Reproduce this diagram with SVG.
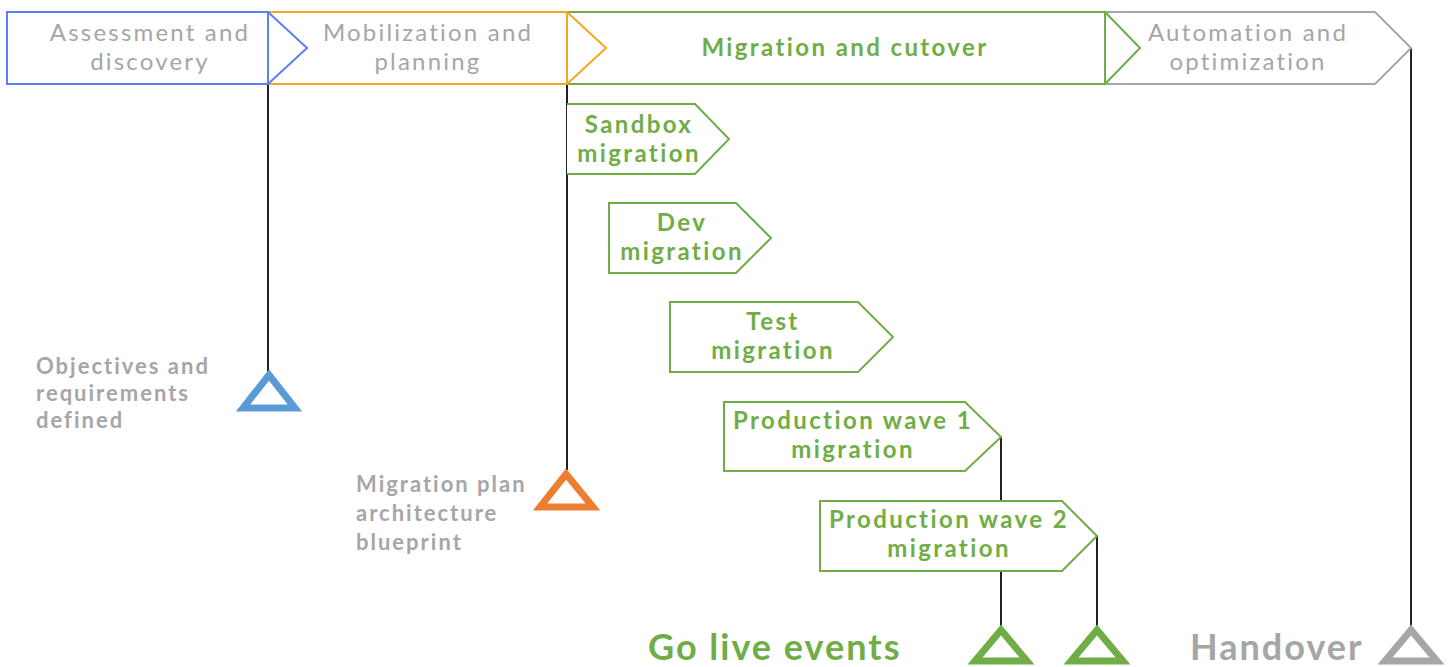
<svg xmlns="http://www.w3.org/2000/svg" width="1448" height="667" viewBox="0 0 1448 667">
<style>
.phase{fill:#fff;stroke-width:2}
.sub{fill:#fff;stroke:#70ad47;stroke-width:2}
.pt{font-family:Lato,"Open Sans",sans-serif;font-size:24px;fill:#a6a6a6;text-anchor:middle;letter-spacing:2.2px}
.st{font-family:Lato,"Open Sans",sans-serif;font-size:24px;font-weight:bold;fill:#70ad47;text-anchor:middle;letter-spacing:2.4px}
.lbl{font-family:Lato,"Open Sans",sans-serif;font-size:22px;font-weight:bold;fill:#a6a6a6;letter-spacing:2px}
.big{font-family:Lato,"Open Sans",sans-serif;font-size:36px;font-weight:bold;letter-spacing:2px}
.line{stroke:#222;stroke-width:2;fill:none}
.tri{fill:none;stroke-width:7;stroke-linejoin:miter}
</style>
<rect width="1448" height="667" fill="#fff"/>
<g id="connectors">
<line class="line" x1="268" y1="84" x2="268" y2="372"/>
<line class="line" x1="567" y1="84" x2="567" y2="470"/>
<line class="line" x1="1411" y1="48" x2="1411" y2="626"/>
<line class="line" x1="1001" y1="437" x2="1001" y2="626"/>
<line class="line" x1="1097" y1="536" x2="1097" y2="626"/>
</g>
<g id="phase-automation">
<path class="phase" stroke="#a6a6a6" d="M1105,12 L1375,12 L1411,48 L1375,84 L1105,84"/>
<text class="pt" x="1248" y="41">Automation and</text>
<text class="pt" x="1248" y="70">optimization</text>
</g>
<g id="phase-migration">
<rect class="phase" stroke="#70ad47" x="567" y="12" width="538" height="72"/>
<path fill="none" stroke="#70ad47" stroke-width="2" d="M1105,12 L1140,48 L1105,84"/>
<text class="st" x="845" y="56">Migration and cutover</text>
</g>
<g id="phase-mobilization">
<rect class="phase" stroke="#f5a623" x="268" y="12" width="299" height="72"/>
<path fill="none" stroke="#f5a623" stroke-width="2" d="M567,12 L606,48 L567,84"/>
<text class="pt" x="428" y="41">Mobilization and</text>
<text class="pt" x="428" y="70">planning</text>
</g>
<g id="phase-assessment">
<rect class="phase" stroke="#5b7ff5" x="7" y="12" width="261" height="72"/>
<path fill="none" stroke="#5b7ff5" stroke-width="2" d="M268,12 L307,48 L268,84"/>
<text class="pt" x="150" y="41">Assessment and</text>
<text class="pt" x="150" y="70">discovery</text>
</g>
<g id="sandbox">
<path class="sub" d="M567,104 L695,104 L729,139 L695,174 L567,174"/>
<text class="st" x="639" y="133">Sandbox</text>
<text class="st" x="639" y="162">migration</text>
</g>
<g id="dev">
<path class="sub" d="M609,203 L736,203 L771,238 L736,273 L609,273 Z"/>
<text class="st" x="682" y="231">Dev</text>
<text class="st" x="682" y="260">migration</text>
</g>
<g id="test">
<path class="sub" d="M670,302 L858,302 L893,337 L858,372 L670,372 Z"/>
<text class="st" x="773" y="330">Test</text>
<text class="st" x="773" y="359">migration</text>
</g>
<g id="prod1">
<path class="sub" d="M724,402 L965,402 L1001,437 L965,471 L724,471 Z"/>
<text class="st" x="853" y="429">Production wave 1</text>
<text class="st" x="853" y="458">migration</text>
</g>
<g id="prod2">
<path class="sub" d="M820,501 L1062,501 L1097,536 L1062,571 L820,571 Z"/>
<text class="st" x="949" y="528">Production wave 2</text>
<text class="st" x="949" y="557">migration</text>
</g>
<g id="milestone-objectives">
<path class="tri" stroke="#5b9bd5" d="M269,375 L295,408 L243,408 Z"/>
<text class="lbl" x="36" y="374">Objectives and</text>
<text class="lbl" x="36" y="401">requirements</text>
<text class="lbl" x="36" y="428">defined</text>
</g>
<g id="milestone-plan">
<path class="tri" stroke="#ed7d31" d="M566,474 L593,507 L540,507 Z"/>
<text class="lbl" x="356" y="492">Migration plan</text>
<text class="lbl" x="356" y="521">architecture</text>
<text class="lbl" x="356" y="550">blueprint</text>
</g>
<g id="golive">
<path class="tri" stroke="#70ad47" d="M1001,630 L1027,661 L975,661 Z"/>
<path class="tri" stroke="#70ad47" d="M1097,630 L1123,661 L1071,661 Z"/>
<text class="big" fill="#70ad47" x="648" y="660">Go live events</text>
</g>
<g id="handover">
<path class="tri" stroke="#a6a6a6" d="M1411,630 L1437,661 L1385,661 Z"/>
<text class="big" fill="#a6a6a6" x="1190" y="660">Handover</text>
</g>
</svg>
